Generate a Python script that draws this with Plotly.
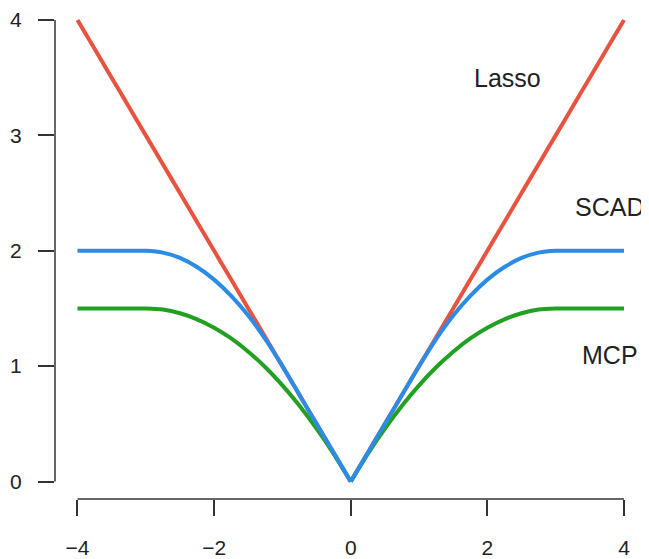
import plotly.graph_objects as go

# sample positions along the penalty axis
x_vals = [-4.0, -3.75, -3.5, -3.25, -3.0, -2.75, -2.5, -2.25, -2.0, -1.75, -1.5, -1.25, -1.0,
          -0.75, -0.5, -0.25, 0.0, 0.25, 0.5, 0.75, 1.0, 1.25, 1.5, 1.75, 2.0, 2.25, 2.5,
          2.75, 3.0, 3.25, 3.5, 3.75, 4.0]

lasso_vals = [4.0, 3.75, 3.5, 3.25, 3.0, 2.75, 2.5, 2.25, 2.0, 1.75, 1.5, 1.25, 1.0,
              0.75, 0.5, 0.25, 0.0, 0.25, 0.5, 0.75, 1.0, 1.25, 1.5, 1.75, 2.0, 2.25, 2.5,
              2.75, 3.0, 3.25, 3.5, 3.75, 4.0]

scad_vals = [2.0, 2.0, 2.0, 2.0, 2.0, 1.984, 1.938, 1.859, 1.75, 1.609, 1.438, 1.234, 1.0,
             0.75, 0.5, 0.25, 0.0, 0.25, 0.5, 0.75, 1.0, 1.234, 1.438, 1.609, 1.75, 1.859, 1.938,
             1.984, 2.0, 2.0, 2.0, 2.0, 2.0]

mcp_vals = [1.5, 1.5, 1.5, 1.5, 1.5, 1.490, 1.458, 1.406, 1.333, 1.240, 1.125, 0.990, 0.833,
            0.656, 0.458, 0.240, 0.0, 0.240, 0.458, 0.656, 0.833, 0.990, 1.125, 1.240, 1.333, 1.406, 1.458,
            1.490, 1.5, 1.5, 1.5, 1.5, 1.5]

x_ticks = [-4, -2, 0, 2, 4]
x_tick_text = ["\u22124", "\u22122", "0", "2", "4"]
y_ticks = [0, 1, 2, 3, 4]
y_tick_text = ["0", "1", "2", "3", "4"]

label_names = ["Lasso", "SCAD", "MCP"]
label_x = [2.29, 3.79, 3.79]
label_y = [3.50, 2.38, 1.10]

RED = "#E8533F"
BLUE = "#2B8CE8"
GREEN = "#22A022"
AX = "#333333"
FONT = "Liberation Sans, Arial, sans-serif"

fig = go.Figure()
mid = x_vals.index(0.0)
for vals, color in [(lasso_vals, RED), (mcp_vals, GREEN), (scad_vals, BLUE)]:
    # draw each half separately so the vertex at 0 stays sharp
    for sl in (slice(0, mid + 1), slice(mid, None)):
        fig.add_trace(go.Scatter(x=x_vals[sl], y=vals[sl], mode="lines",
                                 line=dict(color=color, width=4, shape="spline", smoothing=0.6),
                                 hoverinfo="skip"))

for name, lx, ly in zip(label_names, label_x, label_y):
    fig.add_annotation(x=lx, y=ly, text=name, showarrow=False,
                       font=dict(family=FONT, size=25, color="#222222"),
                       xanchor="center", yanchor="middle")

# R-style axis lines spanning only the tick range
fig.add_shape(type="line", xref="paper", yref="y", x0=0, x1=0,
              y0=y_ticks[0], y1=y_ticks[-1], line=dict(color=AX, width=1.5))
fig.add_shape(type="line", xref="x", yref="paper", y0=0, y1=0,
              x0=x_ticks[0], x1=x_ticks[-1], line=dict(color=AX, width=1.5))

# the page body adds an 8px offset, so the figure is 8px smaller
fig.update_layout(
    width=641, height=551,
    margin=dict(l=47, r=20, t=7, b=60, autoexpand=False),
    paper_bgcolor="white", plot_bgcolor="white",
    showlegend=False,
    font=dict(family=FONT, size=21, color="#222222"),
    xaxis=dict(range=[-4.329, 4.073], tickvals=x_ticks, ticktext=x_tick_text,
               showgrid=False, zeroline=False, showline=False, automargin=False,
               ticks="outside", ticklen=16, tickwidth=1.5, tickcolor=AX,
               ticklabelstandoff=14, tickfont=dict(size=21, family=FONT, color="#222222")),
    yaxis=dict(range=[-0.1516, 4.0433], tickvals=y_ticks, ticktext=y_tick_text,
               showgrid=False, zeroline=False, showline=False, automargin=False,
               ticks="outside", ticklen=16, tickwidth=1.5, tickcolor=AX,
               ticklabelstandoff=12, tickfont=dict(size=21, family=FONT, color="#222222")),
)

fig.write_html("out.html")
